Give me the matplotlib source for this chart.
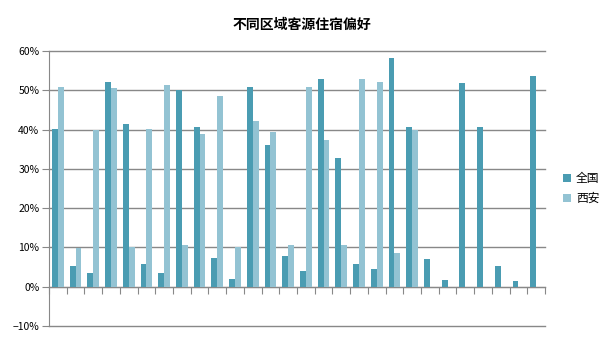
import numpy as np
import matplotlib.pyplot as plt
from matplotlib.ticker import PercentFormatter

plt.rcParams['font.family'] = ['Noto Sans CJK SC', 'DejaVu Sans']

title = "不同区域客源住宿偏好"
series_names = ["全国", "西安"]
quanguo = [40.2, 5.2, 3.4, 52.0, 41.3, 5.9, 3.4, 50.0, 40.6, 7.2, 1.9, 50.9, 36.2, 7.7,
           3.9, 52.8, 32.7, 5.7, 4.4, 58.1, 40.6, 7.0, 1.6, 51.8, 40.6, 5.2, 1.4, 53.6]
xian = [50.9, 9.8, 39.8, 50.5, 10.1, 40.2, 51.3, 10.5, 39.0, 48.5, 10.1, 42.1, 39.3, 10.5,
        50.8, 37.3, 10.5, 52.8, 52.0, 8.7, 39.8, np.nan, np.nan, np.nan, np.nan, np.nan, np.nan, np.nan]
colors = ['#4a9cb2', '#93c3d3']

n = len(quanguo)
x = np.arange(n)
w = 1 / 3

fig = plt.figure(figsize=(6.05, 3.4), dpi=100)
ax = fig.add_axes([49 / 605, 14 / 340, 496 / 605, 275 / 340])

ax.bar(x - w / 2, np.array(quanguo) / 100, width=w, color=colors[0], label=series_names[0], zorder=3)
ax.bar(x + w / 2, np.array(xian) / 100, width=w, color=colors[1], label=series_names[1], zorder=3)

ax.set_xlim(-0.5, n - 0.5)
ax.set_ylim(-0.1, 0.6)
ax.set_yticks(np.arange(-0.1, 0.61, 0.1))
ax.yaxis.set_major_formatter(PercentFormatter(1.0, decimals=0))
ax.yaxis.grid(True, color='#888888', linewidth=1, zorder=0)
for gl in ax.get_ygridlines():
    gl.set_clip_on(False)
ax.tick_params(axis='y', length=5, color='#888888', labelsize=7.5, pad=2)

ax.spines['bottom'].set_position(('data', 0))
ax.spines['bottom'].set_color('#888888')
ax.spines['left'].set_color('#888888')
ax.spines['top'].set_visible(False)
ax.spines['right'].set_visible(False)
ax.set_xticks(np.arange(n + 1) - 0.5)
ax.set_xticklabels([])
ax.tick_params(axis='x', length=5, color='#888888')

fig.text(302 / 605, 1 - 25 / 340, title, ha='center', va='center', fontsize=10, fontweight='bold')
ax.legend(loc='center left', bbox_to_anchor=(1.015, 0.5), frameon=False, fontsize=8.5,
          handlelength=0.7, handleheight=0.7, handletextpad=0.4, labelspacing=0.6)

fig.savefig('out.png', dpi=100)
